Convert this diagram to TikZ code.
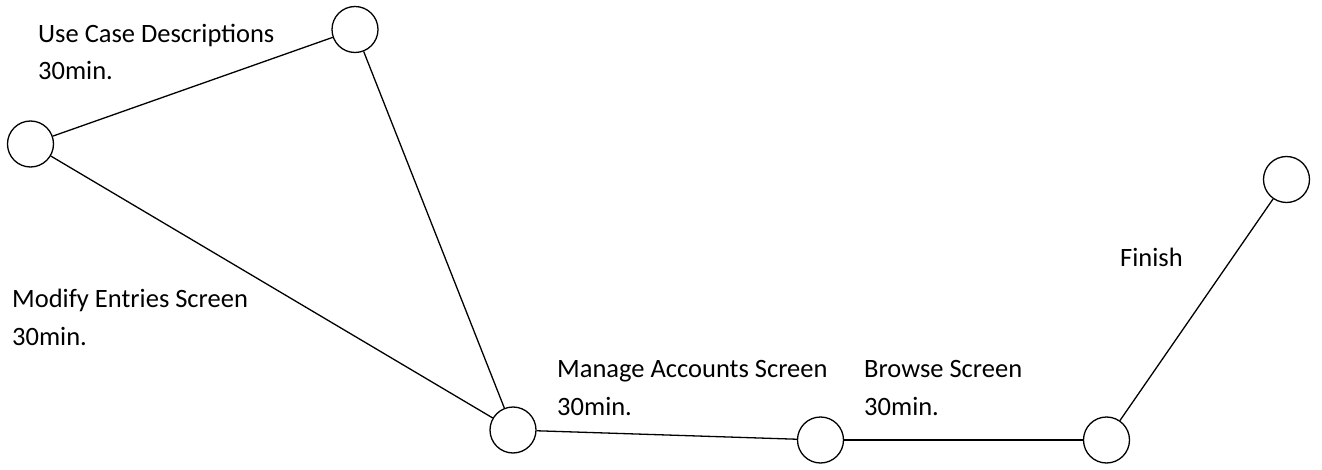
\documentclass[tikz,border=0pt]{standalone}
\usepackage{fontspec}
\setmainfont{Carlito}
\begin{document}
\begin{tikzpicture}[x=1pt,y=-1pt,
  stop/.style={circle,draw,line width=1.3pt,minimum size=46pt,inner sep=0pt},
  link/.style={line width=1.3pt},
  lbl/.style={anchor=base west,inner sep=0pt,align=left,font=\fontsize{26.5}{37.5}\selectfont}]
\useasboundingbox (0,0) rectangle (1322,470);
\node[stop] (n1) at (30.5,144) {};
\node[stop] (n2) at (355,29.5) {};
\node[stop] (n3) at (513,430) {};
\node[stop] (n4) at (820.5,440) {};
\node[stop] (n5) at (1106.5,440) {};
\node[stop] (n6) at (1286.5,179.5) {};
\draw[link] (n1) -- (n2);
\draw[link] (n2) -- (n3);
\draw[link] (n1) -- (n3);
\draw[link] (n3) -- (n4);
\draw[link] (n4) -- (n5);
\draw[link] (n5) -- (n6);
\node[lbl] (t1) at (38,80) {Use Case Descriptions\\30min.};
\node[lbl] (t2) at (12,345) {Modify Entries Screen\\30min.};
\node[lbl] (t3) at (557,415) {Manage Accounts Screen\\30min.};
\node[lbl] (t4) at (864,415) {Browse Screen\\30min.};
\node[lbl] (t5) at (1120,267) {Finish};
\end{tikzpicture}
\end{document}
